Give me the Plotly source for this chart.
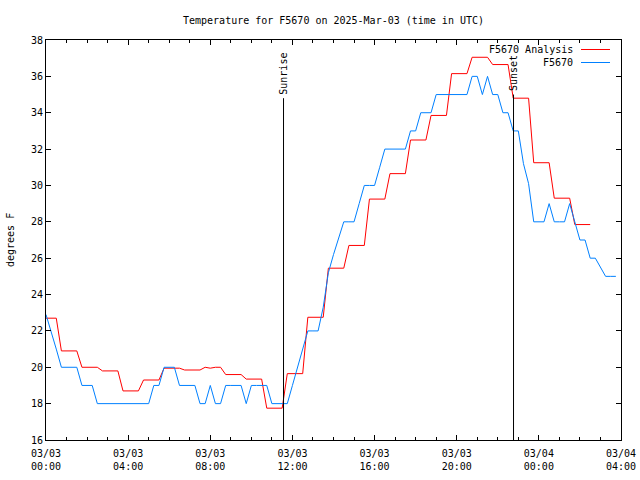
import pandas as pd
import plotly.graph_objects as go

# ---- data (15-minute samples starting 2025-03-03 00:00 UTC) ----
start = "2025-03-03 00:00"

obs_values = [
    22.9, 22, 21, 20, 20, 20, 20, 19, 19, 19,
    18, 18, 18, 18, 18, 18, 18, 18, 18, 18,
    18, 19, 19, 20, 20, 20, 19, 19, 19, 19,
    18, 18, 19, 18, 18, 19, 19, 19, 19, 18,
    19, 19, 19, 19, 18, 18, 18, 18, 19, 20,
    21, 22, 22, 22, 23.3, 25.2, 26.2, 27.1, 28, 28,
    28, 29, 30, 30, 30, 31, 32, 32, 32, 32,
    32, 33, 33, 34, 34, 34, 35, 35, 35, 35,
    35, 35, 35, 36, 36, 35, 36, 35, 35, 34,
    34, 33, 33, 31.2, 30.1, 28, 28, 28, 29, 28,
    28, 28, 29, 28, 27, 27, 26, 26, 25.5, 25,
    25, 25,
]

analysis_values = [
    22.7, 22.7, 22.7, 20.9, 20.9, 20.9, 20.9, 20.0, 20.0, 20.0,
    20.0, 19.8, 19.8, 19.8, 19.8, 18.7, 18.7, 18.7, 18.7, 19.3,
    19.3, 19.3, 19.3, 19.95, 19.95, 19.95, 19.95, 19.85, 19.85, 19.85,
    19.85, 20.0, 19.95, 20.0, 20.0, 19.6, 19.6, 19.6, 19.6, 19.35,
    19.35, 19.35, 19.35, 17.75, 17.75, 17.75, 17.75, 19.65, 19.65, 19.65,
    19.65, 22.75, 22.75, 22.75, 22.75, 25.45, 25.45, 25.45, 25.45, 26.7,
    26.7, 26.7, 26.7, 29.25, 29.25, 29.25, 29.25, 30.65, 30.65, 30.65,
    30.65, 32.5, 32.5, 32.5, 32.5, 33.85, 33.85, 33.85, 33.85, 36.15,
    36.15, 36.15, 36.15, 37.05, 37.05, 37.05, 37.05, 36.65, 36.65, 36.65,
    36.65, 34.8, 34.8, 34.8, 34.8, 31.25, 31.25, 31.25, 31.25, 29.3,
    29.3, 29.3, 29.3, 27.85, 27.85, 27.85, 27.85,
]

tick_times = ["2025-03-03 00:00", "2025-03-03 04:00", "2025-03-03 08:00",
              "2025-03-03 12:00", "2025-03-03 16:00", "2025-03-03 20:00",
              "2025-03-04 00:00", "2025-03-04 04:00"]
tick_labels = ["03/03<br>00:00", "03/03<br>04:00", "03/03<br>08:00",
               "03/03<br>12:00", "03/03<br>16:00", "03/03<br>20:00",
               "03/04<br>00:00", "03/04<br>04:00"]

sun_events = ["Sunrise", "Sunset"]
sun_times = ["2025-03-03 11:34", "2025-03-03 22:46"]
sun_line_tops = [34.8, 35.0]

obs_times = pd.date_range(start, periods=len(obs_values), freq="15min")
analysis_times = pd.date_range(start, periods=len(analysis_values), freq="15min")

FONT = "DejaVu Sans Mono"
RED = "#ff0000"
BLUE = "#0080ff"

fig = go.Figure()
fig.add_trace(go.Scatter(x=analysis_times, y=analysis_values, mode="lines",
                         line=dict(color=RED, width=1), name="F5670 Analysis"))
fig.add_trace(go.Scatter(x=obs_times, y=obs_values, mode="lines",
                         line=dict(color=BLUE, width=1), name="F5670"))

# sunrise / sunset markers
for name, t, top in zip(sun_events, sun_times, sun_line_tops):
    fig.add_shape(type="line", xref="x", yref="y", x0=t, x1=t, y0=16, y1=top,
                  line=dict(color="black", width=1))
    fig.add_annotation(x=t, y=top, xref="x", yref="y", text=name, textangle=-90,
                       showarrow=False, xanchor="center", yanchor="bottom",
                       yshift=1, font=dict(family=FONT, size=10, color="black"))

# legend (gnuplot style: text right-aligned, sample line after)
legend_names = ["F5670 Analysis", "F5670"]
legend_colors = [RED, BLUE]
for k, (nm, col) in enumerate(zip(legend_names, legend_colors)):
    ypx = 49.5 + 13 * k
    yp = 1 - (ypx - 40) / 400
    fig.add_annotation(x=(575 - 46) / 575, y=yp, xref="paper", yref="paper",
                       text=nm, showarrow=False, xanchor="right", yanchor="middle",
                       font=dict(family=FONT, size=10, color="black"))
    fig.add_shape(type="line", xref="paper", yref="paper",
                  x0=(581 - 46) / 575, x1=(610 - 46) / 575, y0=yp, y1=yp,
                  line=dict(color=col, width=1))

fig.add_annotation(x=(10 - 46) / 575, y=0.5, xref="paper", yref="paper",
                   text="degrees F", textangle=-90, showarrow=False,
                   xanchor="center", yanchor="middle",
                   font=dict(family=FONT, size=10, color="black"))

fig.update_layout(
    width=640, height=480,
    margin=dict(l=46, r=19, t=40, b=40, pad=0, autoexpand=False),
    paper_bgcolor="white", plot_bgcolor="white",
    showlegend=False,
    font=dict(family=FONT, size=10, color="black"),
    title=dict(text="Temperature for F5670 on 2025-Mar-03 (time in UTC)",
               x=(333.5 / 640), xanchor="center", y=1 - 20 / 480, yanchor="middle",
               font=dict(family=FONT, size=10, color="black")),
    xaxis=dict(
        range=[tick_times[0], tick_times[-1]], automargin=False,
        tickmode="array", tickvals=tick_times, ticktext=tick_labels,
        ticks="inside", ticklen=5, tickcolor="black", tickwidth=1,
        showline=True, linecolor="black", linewidth=1, mirror="ticks",
        showgrid=False, zeroline=False, ticklabelstandoff=4,
        tickfont=dict(family=FONT, size=10, color="black"),
        minor=dict(tickmode="linear", tick0=tick_times[0], dtick=3600000,
                   ticks="inside", ticklen=3, tickcolor="black", showgrid=False),
    ),
    yaxis=dict(
        range=[16, 38], dtick=2, tick0=16, automargin=False,
        ticks="inside", ticklen=5, tickcolor="black", tickwidth=1,
        showline=True, linecolor="black", linewidth=1, mirror="ticks",
        showgrid=False, zeroline=False,
        tickfont=dict(family=FONT, size=10, color="black"),
    ),
)

fig.write_html("out.html")
